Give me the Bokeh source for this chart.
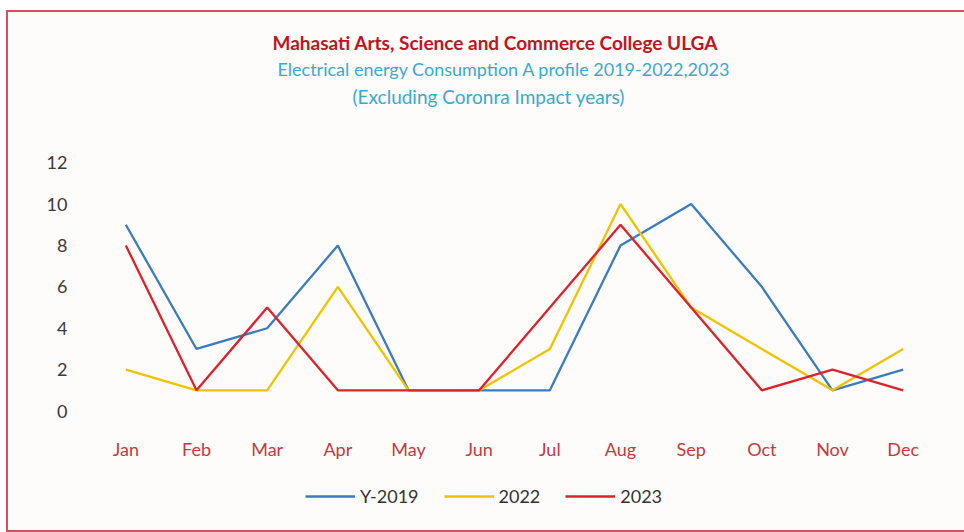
from bokeh.plotting import figure
from bokeh.layouts import column
from bokeh.models import Title, Legend, LegendItem, FixedTicker, Range1d, ColumnDataSource
from bokeh.embed import file_html
from bokeh.resources import INLINE

months = ["Jan", "Feb", "Mar", "Apr", "May", "Jun", "Jul", "Aug", "Sep", "Oct", "Nov", "Dec"]
y2019 = [9, 3, 4, 8, 1, 1, 1, 8, 10, 6, 1, 2]
y2022 = [2, 1, 1, 6, 1, 1, 3, 10, 5, 3, 1, 3]
y2023 = [8, 1, 5, 1, 1, 1, 5, 9, 5, 1, 2, 1]
series_names = ["Y-2019", "2022", "2023"]
y_ticks = [0, 2, 4, 6, 8, 10, 12]

title1 = "Mahasati Arts, Science and Commerce College  ULGA"
title2 = "Electrical energy Consumption  A profile  2019-2022,2023"
title3 = "(Excluding Coronra Impact years)"

FONT = "Lato"
bg = "#fdfcfb"

p = figure(width=956, height=518, output_backend="svg", toolbar_location=None,
           x_range=Range1d(-0.5, 11.5), y_range=Range1d(-5.77, 14.52),
           min_border_left=82, min_border_right=26, min_border_top=98, min_border_bottom=0,
           background_fill_color=bg, border_fill_color=bg)
p.title = None
p.outline_line_color = None
p.xgrid.visible = False
p.ygrid.visible = False
p.xaxis.visible = False

for txt, col, bold, so, fs, off in [(title3, "#3aa9cf", False, 6, "19px", 262),
                                    (title2, "#3aa9cf", False, 0, "18px", 187),
                                    (title1, "#c0141e", True, 4, "19px", 182)]:
    p.add_layout(Title(text=txt, align="left", offset=off, text_color=col, text_font=FONT,
                       text_font_size=fs, text_font_style="bold" if bold else "normal",
                       standoff=so), "above")

xs = list(range(len(months)))
colors = ["#3b7cc0", "#f2c200", "#e02129"]
renderers = []
for ys, c in zip([y2019, y2022, y2023], colors):
    r = p.line(xs, ys, line_color=c, line_width=2.3)
    renderers.append(r)

# month (category) labels under the plotted values
month_src = ColumnDataSource(dict(x=xs, y=[-1.85] * len(xs), m=months))
p.text("x", "y", text="m", source=month_src, text_align="center", text_baseline="middle",
       text_color="#c4393b", text_font={"value": FONT}, text_font_size="18px")

p.yaxis.ticker = FixedTicker(ticks=y_ticks)
p.yaxis.axis_line_color = None
p.yaxis.major_tick_line_color = None
p.yaxis.minor_tick_line_color = None
p.yaxis.major_label_text_color = "#3a3a3a"
p.yaxis.major_label_text_font = FONT
p.yaxis.major_label_text_font_size = "18px"
p.yaxis.major_label_standoff = 17

legend = Legend(items=[LegendItem(label=n, renderers=[r]) for n, r in zip(series_names, renderers)],
                orientation="horizontal", location=(215, 23),
                label_text_font=FONT, label_text_font_size="18px", label_text_color="#333333",
                glyph_width=50, label_standoff=5, spacing=25, padding=0, margin=0,
                border_line_color=None, background_fill_alpha=0)
p.add_layout(legend)

layout = column(p, styles={"border-left": "2px solid #d4505c", "border-top": "2px solid #d4505c",
                           "border-bottom": "2px solid #d4505c",
                           "margin-left": "6px", "margin-top": "10px",
                           "background-color": bg})

open("out.html", "w").write(file_html(layout, INLINE))
